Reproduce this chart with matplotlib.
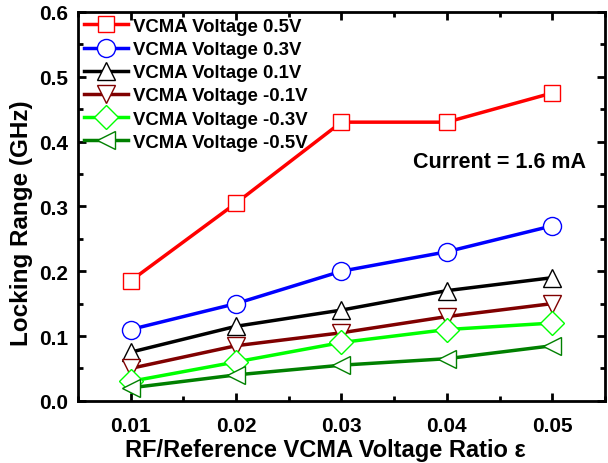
import matplotlib
matplotlib.use("Agg")
import matplotlib.pyplot as plt
from matplotlib.ticker import MultipleLocator, FormatStrFormatter

plt.rcParams['font.family'] = ['Liberation Sans', 'DejaVu Sans']
plt.rcParams['font.weight'] = 'bold'

eps = [0.01, 0.02, 0.03, 0.04, 0.05]
v_p05 = [0.185, 0.305, 0.43, 0.43, 0.475]
v_p03 = [0.11, 0.15, 0.20, 0.23, 0.27]
v_p01 = [0.075, 0.115, 0.14, 0.17, 0.19]
v_m01 = [0.05, 0.085, 0.105, 0.13, 0.15]
v_m03 = [0.03, 0.06, 0.09, 0.11, 0.12]
v_m05 = [0.02, 0.04, 0.055, 0.065, 0.085]

labels = ['VCMA Voltage 0.5V', 'VCMA Voltage 0.3V', 'VCMA Voltage 0.1V',
          'VCMA Voltage -0.1V', 'VCMA Voltage -0.3V', 'VCMA Voltage -0.5V']
series = [v_p05, v_p03, v_p01, v_m01, v_m03, v_m05]
colors = ['#ff0000', '#0000ff', '#000000', '#800000', '#00ff00', '#008000']
markers = ['s', 'o', '^', 'v', 'D', '<']
msizes = [12, 13, 13, 13, 12, 13]

fig = plt.figure(figsize=(6.08, 4.64), dpi=100)
ax = fig.add_axes([0.128, 0.134, 0.867, 0.838])

for ys, lab, c, m, ms in zip(series, labels, colors, markers, msizes):
    ax.plot(eps, ys, color=c, lw=2.5, marker=m, markersize=ms,
            markerfacecolor='white', markeredgecolor=c, markeredgewidth=1.0,
            label=lab)

ax.set_xlim(0.005, 0.055)
ax.set_ylim(0.0, 0.6)
ax.xaxis.set_major_locator(MultipleLocator(0.01))
ax.xaxis.set_minor_locator(MultipleLocator(0.005))
ax.yaxis.set_major_locator(MultipleLocator(0.1))
ax.yaxis.set_minor_locator(MultipleLocator(0.05))
ax.xaxis.set_major_formatter(FormatStrFormatter('%.2f'))
ax.yaxis.set_major_formatter(FormatStrFormatter('%.1f'))
ax.tick_params(which='both', direction='in', top=True, right=True, width=2)
ax.tick_params(which='major', length=6, labelsize=15)
ax.tick_params(axis='x', which='major', pad=11)
ax.tick_params(axis='y', which='major', pad=7)
ax.tick_params(which='minor', length=3.5)
for lbl in ax.get_xticklabels() + ax.get_yticklabels():
    lbl.set_fontweight('bold')
for s in ax.spines.values():
    s.set_linewidth(2)

ax.set_xlabel('RF/Reference VCMA Voltage Ratio ε', fontsize=17, fontweight='bold')
ax.set_ylabel('Locking Range (GHz)', fontsize=17.5, fontweight='bold')
ax.xaxis.set_label_coords(0.47, -0.095)
ax.yaxis.set_label_coords(-0.085, 0.46)

ax.text(0.0532, 0.369, 'Current = 1.6 mA', fontsize=15.5, fontweight='bold',
        ha='right', va='center')

leg = ax.legend(loc='upper left', frameon=False, fontsize=13.4, handlelength=2.35,
                labelspacing=0.33, borderaxespad=0.1, handletextpad=0.3,
                borderpad=0.22)
for t in leg.get_texts():
    t.set_fontweight('bold')

fig.savefig('out.png', dpi=100)
